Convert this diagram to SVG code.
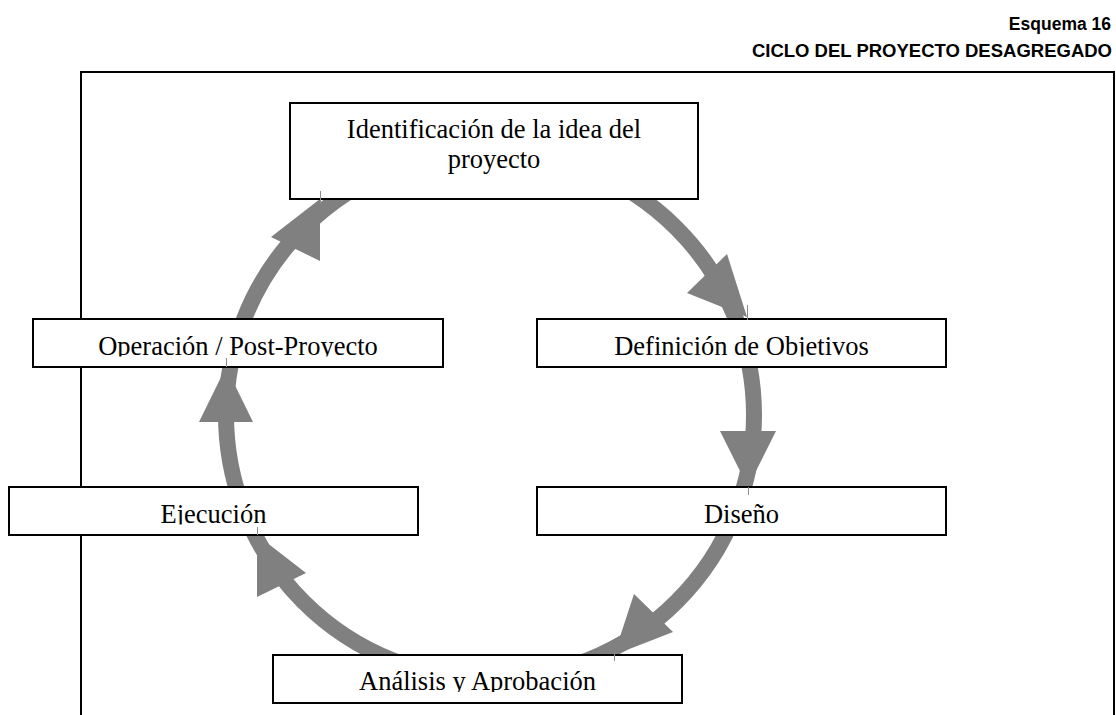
<svg xmlns="http://www.w3.org/2000/svg" width="1116" height="715" viewBox="0 0 1116 715">
<style>
.box{fill:#fff;stroke:#000;stroke-width:2}
.lbl{font-family:"Liberation Serif","Times New Roman",serif;font-size:26.5px;fill:#000;text-anchor:middle}
.ttl{font-family:"Liberation Sans",Arial,sans-serif;font-weight:bold;fill:#000;text-anchor:end}
.ring{fill:none;stroke:#808080;stroke-width:16}
.head{fill:#808080}
.tick{stroke:#8c8c8c;stroke-width:1}
</style>
<defs>
<clipPath id="c1"><rect x="0" y="300" width="1116" height="56.5"/></clipPath>
<clipPath id="c2"><rect x="0" y="470" width="1116" height="54.5"/></clipPath>
<clipPath id="c3"><rect x="0" y="640" width="1116" height="52"/></clipPath>
</defs>
<rect width="1116" height="715" fill="#fff"/>
<g id="title">
<text class="ttl" x="1111" y="30" font-size="17.5">Esquema 16</text>
<text class="ttl" x="1112" y="57" font-size="18.5">CICLO DEL PROYECTO DESAGREGADO</text>
</g>
<g id="frame"><path d="M81,715 V72 H1114 V715" fill="none" stroke="#000" stroke-width="2"/></g>
<g id="connectors">
<circle class="ring" cx="490" cy="415" r="264"/>
<polygon class="head" points="687,293 727,254 747,317"/>
<polygon class="head" points="720,431 776,431 748,487"/>
<polygon class="head" points="673,632 634,594 614,655"/>
<polygon class="head" points="306,573 257,597 257,535"/>
<polygon class="head" points="199,422 253,422 226,367"/>
<polygon class="head" points="271,237 320,261 320,199"/>
</g>
<g id="node-identificacion">
<rect class="box" x="290" y="103" width="408" height="96"/>
<text class="lbl" x="494" y="138">Identificación de la idea del</text>
<text class="lbl" x="494" y="168">proyecto</text>
</g>
<g id="node-definicion">
<rect class="box" x="537" y="319" width="409" height="48"/>
<text class="lbl" x="741.5" y="354.5" clip-path="url(#c1)">Definición de Objetivos</text>
</g>
<g id="node-diseno">
<rect class="box" x="537" y="487" width="409" height="48"/>
<text class="lbl" x="741.5" y="522.5" clip-path="url(#c2)">Diseño</text>
</g>
<g id="node-analisis">
<rect class="box" x="273" y="655" width="409" height="48"/>
<text class="lbl" x="477.5" y="690" clip-path="url(#c3)">Análisis y Aprobación</text>
</g>
<g id="node-ejecucion">
<rect class="box" x="9" y="487" width="409" height="48"/>
<text class="lbl" x="213.5" y="522.5" clip-path="url(#c2)">Ejecución</text>
</g>
<g id="node-operacion">
<rect class="box" x="33" y="319" width="410" height="48"/>
<text class="lbl" x="238" y="354.5" clip-path="url(#c1)">Operación / Post-Proyecto</text>
</g>
<g id="connector-ends">
<line class="tick" x1="320.5" y1="191" x2="320.5" y2="202"/>
<line class="tick" x1="747.5" y1="305" x2="747.5" y2="320"/>
<line class="tick" x1="748.5" y1="487" x2="748.5" y2="495"/>
<line class="tick" x1="614.5" y1="653" x2="614.5" y2="661"/>
<line class="tick" x1="257.5" y1="527" x2="257.5" y2="535"/>
<line class="tick" x1="226.5" y1="358" x2="226.5" y2="367"/>
</g>
</svg>
